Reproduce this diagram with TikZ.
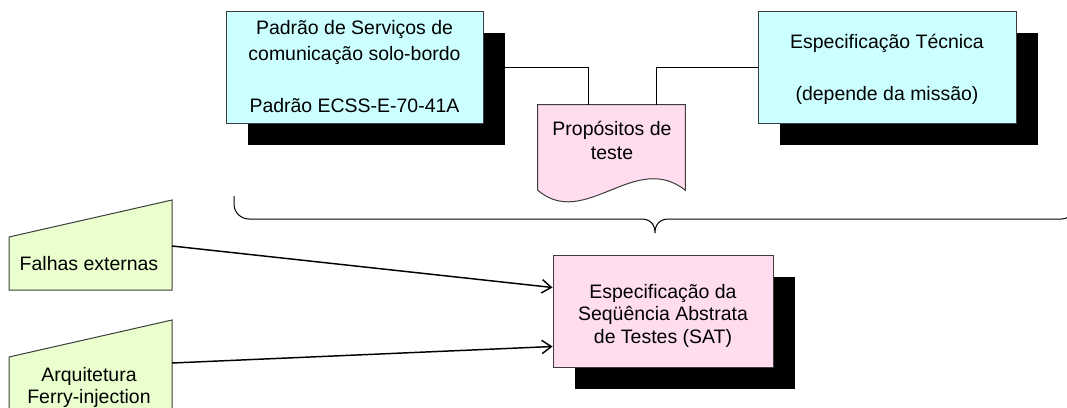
\documentclass[tikz,border=0pt]{standalone}
\usepackage{fontspec}
\setmainfont{Liberation Sans}
\usetikzlibrary{shadows,arrows.meta,calc}
\definecolor{boxcyan}{RGB}{204,255,255}
\definecolor{boxpink}{RGB}{255,221,238}
\definecolor{boxgreen}{RGB}{234,255,206}
\definecolor{edgegray}{RGB}{60,60,60}
\begin{document}
\begin{tikzpicture}[x=0.75pt,y=-0.75pt,
  every node/.style={font=\fontsize{14.6}{19.5}\selectfont},
  specbox/.style={draw=edgegray, line width=0.75pt, align=center, inner sep=0pt,
     drop shadow={opacity=1, fill=black, shadow xshift=16.5pt, shadow yshift=-16.5pt}},
  thinline/.style={line width=0.75pt, draw=black},
  shapeline/.style={line width=0.75pt, draw=edgegray},
  arrowline/.style={line width=1.1pt, -{Straight Barb[length=7pt,width=10pt]}},
]
\useasboundingbox (0,0) rectangle (1067,407);
\clip (0,0) rectangle (1067,407);

% top boxes
\node[specbox, fill=boxcyan, minimum width=192.75pt, minimum height=84pt] (std) at (354.5,67)
  {Padrão de Serviços de\\comunicação solo-bordo\\[19.5pt]Padrão ECSS-E-70-41A};
\node[specbox, fill=boxcyan, minimum width=193.5pt, minimum height=84pt,
  label={[name=techtext, align=center, yshift=-2pt]center:Especificação Técnica\\[19.5pt](depende da missão)}] (tech) at (887,67) {};

% document shape
\node[minimum width=110.25pt, minimum height=63.75pt, inner sep=0pt] (doc) at (611.5,147.5) {};
\draw[shapeline, fill=boxpink] (doc.south west) .. controls +(47,40) and +(-50,-40) .. (doc.south east)
  -- (doc.north east) -- (doc.north west) -- cycle;
\node[align=center, font=\fontsize{14.6}{18}\selectfont] (doctext) at (612,140) {Propósitos de\\teste};

% connectors to the document
\draw[thinline] (std.east) -| ($(doc.north west)!0.347!(doc.north east)$);
\draw[thinline] (tech.west) -| ($(doc.north west)!0.803!(doc.north east)$);

% brace
\draw[thinline, rounded corners=11.25pt] (234,196) -- (234,219) -- (641,219);
\draw[thinline] (641,219) .. controls (650,219) and (655,224) .. (655,233)
  .. controls (655,224) and (660,219) .. (669,219);
\draw[thinline, rounded corners=11.25pt] (669,219) -- (1076,219) -- (1076,196);

% SAT box
\node[specbox, fill=boxpink, minimum width=165pt, minimum height=84pt,
  label={[name=sattext, align=center, font=\fontsize{14.6}{16.9}\selectfont, yshift=-3.5pt]center:Especificação da\\Seqüência Abstrata\\de Testes (SAT)}] (sat) at (663,311) {};

% left inputs
\draw[shapeline, fill=boxgreen] (9,290) -- (9,237) -- (172,200) -- (172,290) -- cycle;
\node (falhas) at (89,264) {Falhas externas};
\coordinate (falhasout) at (172,246);

\draw[shapeline, fill=boxgreen] (9,412) -- (9,357) -- (172,320) -- (172,412) -- cycle;
\node[align=center, font=\fontsize{14.6}{16.5}\selectfont] (ferry) at (89,387) {Arquitetura\\Ferry-injection};
\coordinate (ferryout) at (172,363);

% arrows
\draw[arrowline] (falhasout) -- ($(sat.north west)+(0,33)$);
\draw[arrowline] (ferryout) -- ($(sat.north west)+(0,92)$);
\end{tikzpicture}
\end{document}
